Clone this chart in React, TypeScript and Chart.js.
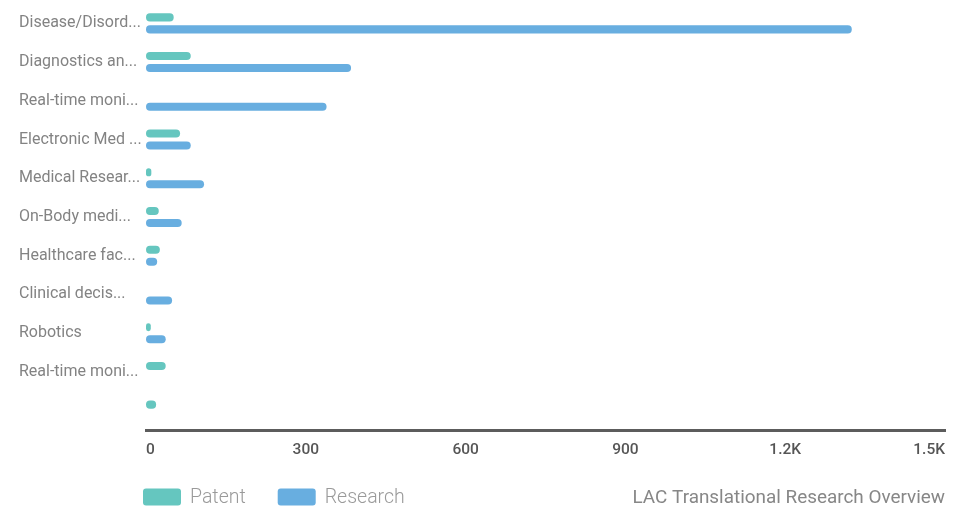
import React, { useEffect, useRef } from "react";
import { Chart, registerables } from "chart.js";

Chart.register(...registerables);

const categories = [
  "Disease/Disord...",
  "Diagnostics an...",
  "Real-time moni...",
  "Electronic Med ...",
  "Medical Resear...",
  "On-Body medi...",
  "Healthcare fac...",
  "Clinical decis...",
  "Robotics",
  "Real-time moni...",
  "",
];
const patentValues = [52, 84, 0, 64, 10, 24, 26, 0, 9, 37, 19];
const researchValues = [1325, 385, 339, 84, 109, 67, 21, 49, 37, 0, 0];
const xTickLabels: Record<number, string> = { 0: "0", 300: "300", 600: "600", 900: "900", 1200: "1.2K", 1500: "1.5K" };
const chartTitle = "LAC Translational Research Overview";

const PATENT_COLOR = "#65c6bf";
const RESEARCH_COLOR = "#68aee0";

const legendTitlePlugin = {
  id: "legendTitle",
  afterDraw(chart: any) {
    const ctx = chart.ctx;
    ctx.save();
    const y = 497;
    const items = chart.data.datasets.map((d: any) => ({ label: d.label, color: d.backgroundColor }));
    let x = 143;
    ctx.font = "300 19.5px Roboto";
    ctx.textBaseline = "middle";
    items.forEach((it: any) => {
      ctx.fillStyle = it.color;
      ctx.beginPath();
      (ctx as any).roundRect(x, y - 8.5, 38, 17, 3);
      ctx.fill();
      ctx.fillStyle = "#9a9a9a";
      ctx.textAlign = "left";
      ctx.fillText(it.label, x + 47, y + 1);
      x += 47 + ctx.measureText(it.label).width + 32;
    });
    ctx.font = "400 18.9px Roboto";
    ctx.fillStyle = "#878787";
    ctx.textAlign = "right";
    ctx.fillText(chartTitle, 945, y + 1);
    ctx.restore();
  },
};

export default function App() {
  const canvasRef = useRef<HTMLCanvasElement | null>(null);
  useEffect(() => {
    document.body.style.margin = "0";
    const chart = new Chart(canvasRef.current as HTMLCanvasElement, {
      type: "bar",
      data: {
        labels: categories,
        datasets: [
          {
            label: "Patent",
            data: patentValues,
            backgroundColor: PATENT_COLOR,
            borderRadius: 4,
            borderSkipped: false,
            categoryPercentage: 0.62,
            barPercentage: 0.67,
          },
          {
            label: "Research",
            data: researchValues,
            backgroundColor: RESEARCH_COLOR,
            borderRadius: 4,
            borderSkipped: false,
            categoryPercentage: 0.62,
            barPercentage: 0.67,
          },
        ],
      },
      options: {
        indexAxis: "y",
        animation: false,
        responsive: false,
        maintainAspectRatio: false,
        layout: { padding: { left: 19, right: 24, top: 4, bottom: 47 } },
        plugins: {
          legend: { display: false },
          tooltip: { enabled: false },
          title: { display: false },
        },
        scales: {
          x: {
            min: 0,
            max: 1500,
            grid: { display: false },
            border: { display: true, color: "#5c5c5c", width: 3 },
            ticks: {
              stepSize: 300,
              align: "inner",
              padding: 3,
              color: "#555555",
              font: { family: "Roboto", size: 15.5, weight: "500" },
              callback: (v: any) => xTickLabels[v as number] ?? String(v),
            },
            afterFit: (scale: any) => {
              scale.height = 30;
              scale.paddingLeft = 0;
              scale.paddingRight = 0;
            },
          },
          y: {
            grid: { display: false },
            border: { display: false },
            ticks: {
              crossAlign: "far",
              color: "#838383",
              font: { family: "Roboto", size: 16 },
              autoSkip: false,
            },
            afterFit: (scale: any) => {
              scale.width = 127;
              scale.paddingTop = 0;
              scale.paddingBottom = 0;
            },
          },
        },
      },
      plugins: [legendTitlePlugin],
    });
    return () => chart.destroy();
  }, []);
  return <canvas ref={canvasRef} width={969} height={507} style={{ display: "block" }} />;
}
